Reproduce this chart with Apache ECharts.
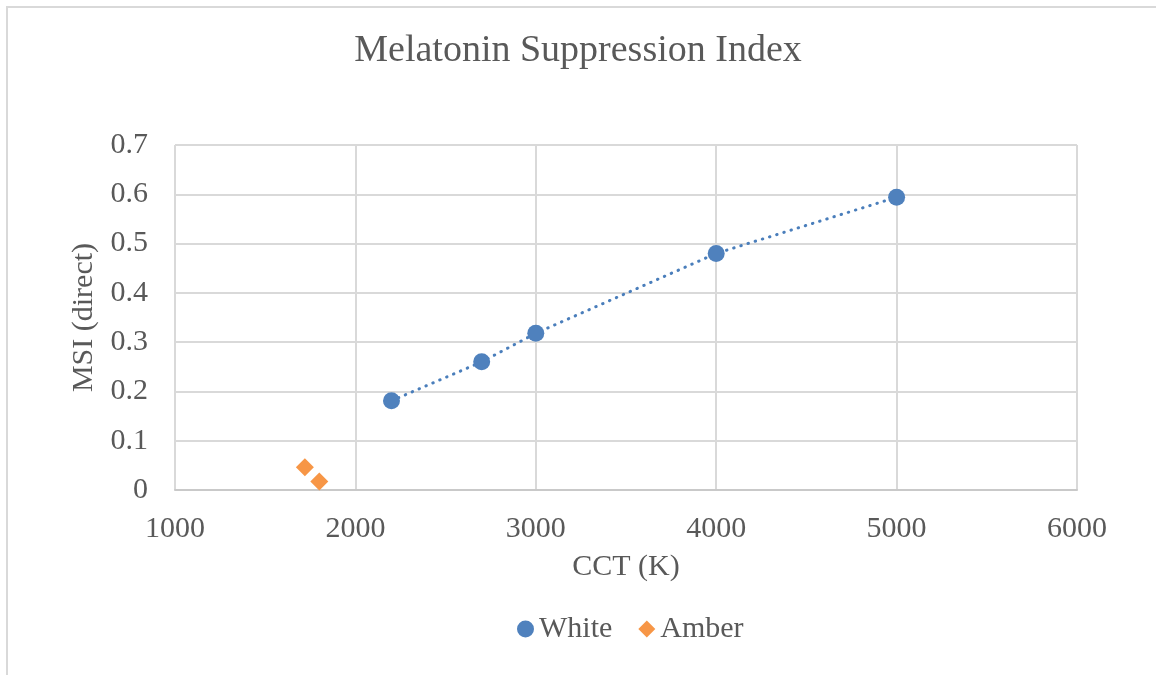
<!DOCTYPE html>
<html>
<head>
<meta charset="utf-8">
<script src="https://cdn.jsdelivr.net/npm/echarts@6/dist/echarts.min.js"></script>
<style>
  html, body { margin: 0; padding: 0; background: #fff; }
  #chart { width: 1156px; height: 675px; }
</style>
</head>
<body>
<div id="chart"></div>
<script>
// Correlated colour temperature (K) and direct MSI for each light type
const cctWhite = [2200, 2700, 3000, 4000, 5000];
const msiWhite = [0.181, 0.260, 0.318, 0.480, 0.594];
const cctAmber = [1720, 1800];
const msiAmber = [0.046, 0.017];

const seriesNames = ['White', 'Amber'];
const titleText = 'Melatonin Suppression Index';
const xName = 'CCT (K)';
const yName = 'MSI (direct)';

const FONT = "'Liberation Serif', 'Times New Roman', serif";
const TEXT = '#595959';
const GRID = '#d9d9d9';

const toPairs = (xs, ys) => xs.map((x, i) => [x, ys[i]]);

const chart = echarts.init(document.getElementById('chart'), null, { renderer: 'canvas' });

chart.setOption({
  animation: false,
  backgroundColor: '#ffffff',
  textStyle: { fontFamily: FONT, color: TEXT },
  graphic: [{
    type: 'rect',
    shape: { x: 7, y: 7, width: 1200, height: 720 },
    style: { fill: 'none', stroke: '#d9d9d9', lineWidth: 2 },
    silent: true
  }],
  title: {
    text: titleText,
    left: 'center',
    top: 32,
    padding: 0,
    textStyle: { fontFamily: FONT, fontSize: 38, fontWeight: 'normal', color: TEXT }
  },
  legend: {
    data: [
      { name: seriesNames[0], icon: 'circle' },
      { name: seriesNames[1], icon: 'diamond' }
    ],
    left: 512,
    top: 609,
    itemWidth: 17,
    itemHeight: 17,
    itemGap: 26,
    textStyle: { fontFamily: FONT, fontSize: 30, color: TEXT }
  },
  grid: { left: 175, right: 79, top: 145, bottom: 185 },
  xAxis: {
    type: 'value',
    min: 1000,
    max: 6000,
    interval: 1000,
    name: xName,
    nameLocation: 'middle',
    nameGap: 62,
    nameTextStyle: { fontFamily: FONT, fontSize: 30, color: TEXT },
    axisLine: { show: true, lineStyle: { color: '#c9c9c9', width: 2 } },
    axisTick: { show: false },
    axisLabel: {
      margin: 24,
      fontFamily: FONT,
      fontSize: 30,
      color: TEXT,
      formatter: v => String(v)
    },
    splitLine: { show: true, lineStyle: { color: GRID, width: 2 } }
  },
  yAxis: {
    type: 'value',
    min: 0,
    max: 0.7,
    interval: 0.1,
    name: yName,
    nameLocation: 'middle',
    nameGap: 71,
    nameRotate: 90,
    nameTextStyle: { fontFamily: FONT, fontSize: 30, color: TEXT },
    axisLine: { show: false },
    axisTick: { show: false },
    axisLabel: {
      margin: 27,
      fontFamily: FONT,
      fontSize: 30,
      color: TEXT,
      formatter: v => String(Math.round(v * 10) / 10)
    },
    splitLine: { show: true, lineStyle: { color: GRID, width: 2 } }
  },
  series: [
    {
      name: seriesNames[0],
      type: 'line',
      data: toPairs(cctWhite, msiWhite),
      symbol: 'circle',
      symbolSize: 17,
      itemStyle: { color: '#4f81bd', opacity: 1 },
      lineStyle: { color: '#4a7ebb', width: 3, type: [0.5, 7], cap: 'round' },
      z: 3
    },
    {
      name: seriesNames[1],
      type: 'scatter',
      data: toPairs(cctAmber, msiAmber),
      symbol: 'diamond',
      symbolSize: 18,
      itemStyle: { color: '#f79646', opacity: 1 },
      z: 3
    }
  ]
});
</script>
</body>
</html>
